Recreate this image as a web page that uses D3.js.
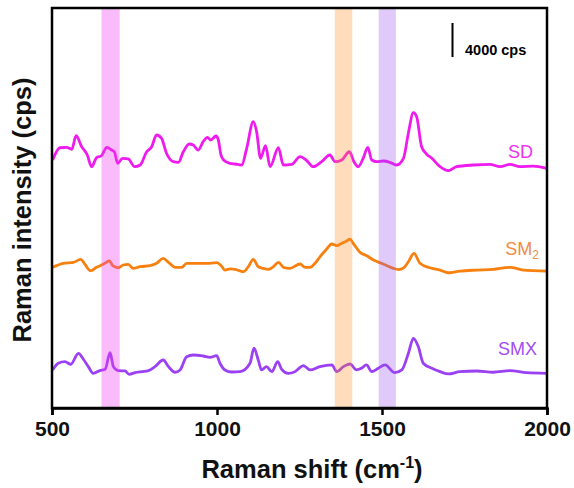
<!DOCTYPE html>
<html>
<head>
<meta charset="utf-8">
<script src="https://cdn.jsdelivr.net/npm/d3@7"></script>
<style>
  html, body { margin: 0; padding: 0; background: #fff; }
  svg { display: block; font-family: "Liberation Sans", Arial, sans-serif; }
</style>
</head>
<body>
<svg id="chart" width="574" height="488"></svg>
<script>
// Raman spectra (shift in cm-1, intensity in cps above each trace's own baseline)
const sdSpectrum = [
  [502,2140],[524,3580],[544,3630],[560,3400],[573,4990],[590,3700],[607,2730],[620,1350],
  [635,2410],[650,2640],[666,3630],[681,3310],[689,3110],[699,1750],[714,2340],[731,2260],
  [751,1350],[767,1550],[787,3110],[802,3700],[817,5080],[832,4690],[847,2930],[868,1940],
  [883,1870],[898,3110],[916,4020],[928,3900],[943,3310],[958,4290],[971,4810],[981,4490],
  [997,4960],[1004,4490],[1012,2730],[1020,2140],[1039,1750],[1055,1670],[1075,1550],
  [1090,3510],[1110,6640],[1120,5460],[1132,2340],[1147,3820],[1161,1350],[1186,3580],
  [1201,1550],[1226,1630],[1252,2530],[1270,2140],[1292,1350],[1317,1940],[1342,2730],
  [1358,1940],[1378,2140],[1401,3110],[1415,1940],[1428,1350],[1443,2340],[1457,3630],
  [1469,2140],[1484,1940],[1504,2020],[1524,1870],[1544,1550],[1565,2340],[1580,5310],
  [1595,7700],[1605,7230],[1620,3700],[1635,2840],[1651,2340],[1676,1350],[1701,880],
  [1726,1350],[1777,1550],[1827,1630],[1858,1350],[1888,1630],[1918,1350],[1958,1430],
  [1999,1160]
];
const sm2Spectrum = [
  [502,1530],[534,2000],[565,2120],[587,2470],[600,1880],[617,1130],[635,1530],[655,1880],
  [674,2270],[684,1720],[701,1480],[716,1800],[731,1880],[746,1410],[767,1600],[797,1720],
  [817,2000],[837,2590],[853,2120],[873,1530],[893,1530],[908,2000],[938,2000],[969,2000],
  [999,2070],[1011,1800],[1024,1210],[1040,1350],[1055,1290],[1080,1010],[1095,1600],
  [1110,2470],[1125,1600],[1140,1410],[1155,1290],[1171,1600],[1186,2120],[1203,1480],
  [1221,1410],[1252,1920],[1267,1530],[1282,1530],[1297,2000],[1312,2770],[1330,3560],
  [1348,4270],[1363,4070],[1378,4350],[1393,4620],[1403,4850],[1413,4350],[1433,3290],
  [1454,2890],[1474,2390],[1494,2070],[1514,1740],[1534,1410],[1550,1270],[1565,1450],
  [1580,2190],[1597,3170],[1615,2000],[1645,1480],[1676,1210],[1701,890],[1736,1090],
  [1787,1210],[1837,1290],[1888,1530],[1928,1210],[1999,1090]
];
const smxSpectrum = [
  [502,1470],[519,2260],[539,2440],[557,2140],[580,3430],[595,2730],[610,1860],[625,1080],
  [645,1390],[661,1550],[676,3500],[686,1860],[701,1390],[721,1350],[734,960],[752,1150],
  [772,1270],[792,1390],[812,1860],[837,2640],[853,1860],[873,1200],[888,1470],[908,3030],
  [928,3230],[958,3110],[979,2960],[999,3150],[1009,2260],[1024,1470],[1045,1230],
  [1070,1270],[1100,2260],[1112,4020],[1125,2640],[1135,1470],[1150,1860],[1166,1270],
  [1184,2440],[1196,1550],[1216,1080],[1236,1270],[1262,1970],[1282,1470],[1312,1860],
  [1348,2060],[1363,1270],[1383,1860],[1403,2170],[1423,1470],[1438,1670],[1453,2060],
  [1469,1270],[1489,1670],[1509,2060],[1539,1150],[1560,1470],[1580,3430],[1595,5190],
  [1610,4210],[1625,2260],[1651,1670],[1676,1270],[1701,1000],[1736,1270],[1787,1350],
  [1837,1200],[1888,1390],[1938,1150],[1999,1080]
];

const seriesNames   = ["SD", "SM2", "SMX"];
const seriesData    = [sdSpectrum, sm2Spectrum, smxSpectrum];
const seriesOffsets = [27000, 15000, 3000];      // vertical stacking offset, cps
const lineColors    = ["#ee1aee", "#f7800f", "#9b40f2"];
const labelColors   = ["#ee33ee", "#f08c45", "#a24ef0"];

// highlighted Raman bands [from, to] in cm-1
const bandRanges = [[650, 705], [1357, 1410], [1490, 1542]];
const bandColors = ["rgb(240,60,240)", "rgb(255,140,30)", "rgb(150,80,240)"];

const xTicks = [500, 1000, 1500, 2000];
const scaleBarValue = 4000;

const svg = d3.select("#chart");
const margin = { left: 52, right: 27, top: 8, bottom: 80 };
const W = 574, H = 488;
const x = d3.scaleLinear().domain([500, 2000]).range([margin.left, W - margin.right]);
const y = d3.scaleLinear().domain([0, 47000]).range([H - margin.bottom, margin.top]);

svg.append("defs").append("clipPath").attr("id", "plotClip")
  .append("rect")
  .attr("x", x(500)).attr("y", y(47000))
  .attr("width", x(2000) - x(500)).attr("height", y(0) - y(47000));

// spectra
const line = d3.line().x(d => x(d[0])).y(d => d[1]).curve(d3.curveMonotoneX);
const plot = svg.append("g").attr("clip-path", "url(#plotClip)");
seriesData.forEach((s, i) => {
  plot.append("path")
    .datum(s.map(d => [d[0], y(d[1] + seriesOffsets[i])]))
    .attr("fill", "none")
    .attr("stroke", lineColors[i])
    .attr("stroke-width", 2.8)
    .attr("stroke-linejoin", "round")
    .attr("d", line);
});

// translucent bands over the spectra
plot.selectAll("rect.band").data(bandRanges).join("rect")
  .attr("class", "band")
  .attr("x", d => x(d[0]))
  .attr("width", d => x(d[1]) - x(d[0]))
  .attr("y", y(47000))
  .attr("height", y(0) - y(47000))
  .attr("fill", (d, i) => bandColors[i])
  .attr("fill-opacity", (d, i) => i === 0 ? 0.35 : 0.3);

// series labels
const labelPos = [[533, 158], [539, 255], [537, 355]];
seriesNames.forEach((name, i) => {
  const t = svg.append("text")
    .attr("x", labelPos[i][0]).attr("y", labelPos[i][1])
    .attr("text-anchor", "end")
    .attr("font-size", 18)
    .attr("fill", labelColors[i]);
  if (name === "SM2") {
    t.append("tspan").text("SM");
    t.append("tspan").attr("font-size", 12).attr("dy", 4).text("2");
  } else {
    t.text(name);
  }
});

// intensity scale bar
const barX = 452.5;
const barTop = 23;
svg.append("line")
  .attr("x1", barX).attr("x2", barX)
  .attr("y1", barTop).attr("y2", barTop + (y(0) - y(scaleBarValue)))
  .attr("stroke", "#000").attr("stroke-width", 2);
svg.append("text")
  .attr("x", 465).attr("y", 55)
  .attr("font-size", 14.5).attr("font-weight", "bold")
  .text(scaleBarValue + " cps");

// frame
svg.append("rect")
  .attr("x", x(500)).attr("y", y(47000))
  .attr("width", x(2000) - x(500)).attr("height", y(0) - y(47000))
  .attr("fill", "none").attr("stroke", "#000").attr("stroke-width", 2.5);

// x axis
const xAxis = svg.append("g")
  .attr("transform", `translate(0,${y(0)})`)
  .call(d3.axisBottom(x).tickValues(xTicks).tickFormat(d3.format("d")).tickSize(7).tickPadding(6));
xAxis.select(".domain").attr("stroke-width", 2.5);
xAxis.selectAll(".tick line").attr("stroke-width", 2.5);
xAxis.selectAll(".tick text")
  .attr("font-family", "'Liberation Sans', Arial, sans-serif")
  .attr("font-size", 21).attr("font-weight", "bold").attr("fill", "#111");

// axis titles
const xTitle = svg.append("text")
  .attr("x", 312).attr("y", 478)
  .attr("text-anchor", "middle")
  .attr("font-size", 25.5).attr("font-weight", "bold").attr("fill", "#111");
xTitle.append("tspan").text("Raman shift (cm");
xTitle.append("tspan").attr("font-size", 16).attr("dy", -10).text("-1");
xTitle.append("tspan").attr("dy", 10).text(")");

svg.append("text")
  .attr("transform", "translate(31,210) rotate(-90)")
  .attr("text-anchor", "middle")
  .attr("font-size", 25.5).attr("font-weight", "bold").attr("fill", "#111")
  .text("Raman intensity (cps)");
</script>
</body>
</html>
